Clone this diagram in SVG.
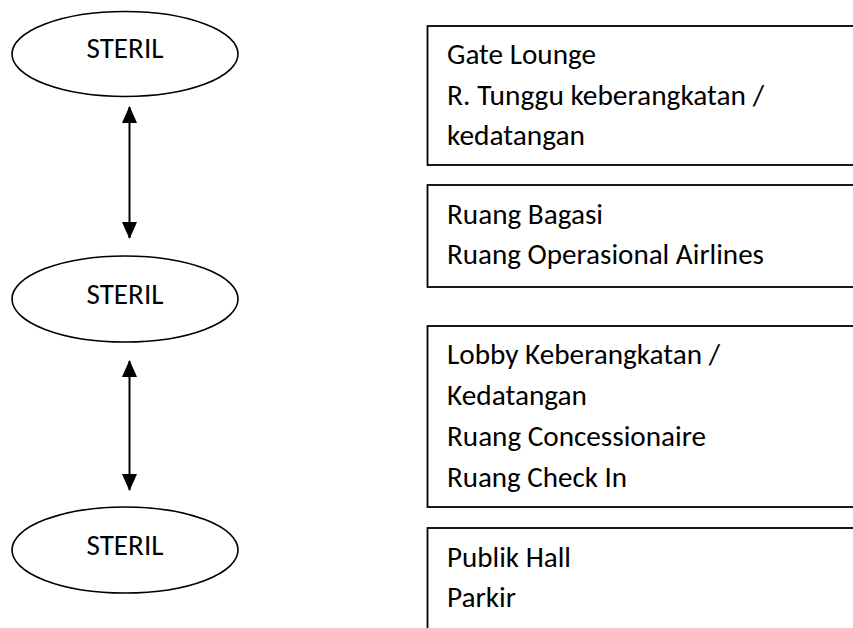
<svg xmlns="http://www.w3.org/2000/svg" width="853" height="628" viewBox="0 0 853 628">
  <style>
    .zone { fill: #ffffff; stroke: #000000; stroke-width: 1.6; }
    .area { fill: #ffffff; stroke: #000000; stroke-width: 1.8; }
    .lbl { font-family: Carlito, Lato, "Liberation Sans", sans-serif; font-size: 29px; fill: #000000; }
    .mid { text-anchor: middle; }
    .link { stroke: #000000; stroke-width: 2; fill: none; }
  </style>
  <defs>
    <marker id="head" viewBox="0 0 17 15" refX="16" refY="7.5" markerWidth="17" markerHeight="15" markerUnits="userSpaceOnUse" orient="auto-start-reverse">
      <path d="M0,0 L17,7.5 L0,15 z" fill="#000000"/>
    </marker>
  </defs>
  <rect width="853" height="628" fill="#ffffff"/>

  <!-- zones (left column) -->
  <g id="zone-top">
    <ellipse class="zone" cx="125" cy="54" rx="113" ry="42.5"/>
    <text class="lbl mid" x="125" y="58" textLength="77" lengthAdjust="spacingAndGlyphs">STERIL</text>
  </g>
  <g id="zone-mid">
    <ellipse class="zone" cx="125" cy="299" rx="113" ry="43"/>
    <text class="lbl mid" x="125" y="304" textLength="77" lengthAdjust="spacingAndGlyphs">STERIL</text>
  </g>
  <g id="zone-bottom">
    <ellipse class="zone" cx="125" cy="550" rx="113" ry="43"/>
    <text class="lbl mid" x="125" y="555" textLength="77" lengthAdjust="spacingAndGlyphs">STERIL</text>
  </g>

  <!-- two-way links between zones -->
  <g id="links">
    <line class="link" x1="129.5" y1="107" x2="129.5" y2="238" marker-start="url(#head)" marker-end="url(#head)"/>
    <line class="link" x1="129.5" y1="361" x2="129.5" y2="490" marker-start="url(#head)" marker-end="url(#head)"/>
  </g>

  <!-- area lists (right column) -->
  <g id="area-gate">
    <rect class="area" x="427.5" y="26" width="440" height="139"/>
    <text class="lbl" x="447" y="64" textLength="149" lengthAdjust="spacingAndGlyphs">Gate Lounge</text>
    <text class="lbl" x="447" y="105" textLength="317" lengthAdjust="spacingAndGlyphs">R. Tunggu keberangkatan /</text>
    <text class="lbl" x="447" y="145" textLength="138" lengthAdjust="spacingAndGlyphs">kedatangan</text>
  </g>
  <g id="area-baggage">
    <rect class="area" x="427.5" y="185" width="440" height="102"/>
    <text class="lbl" x="447" y="224" textLength="156" lengthAdjust="spacingAndGlyphs">Ruang Bagasi</text>
    <text class="lbl" x="447" y="264" textLength="317" lengthAdjust="spacingAndGlyphs">Ruang Operasional Airlines</text>
  </g>
  <g id="area-lobby">
    <rect class="area" x="427.5" y="326" width="440" height="181"/>
    <text class="lbl" x="447" y="364" textLength="273" lengthAdjust="spacingAndGlyphs">Lobby Keberangkatan /</text>
    <text class="lbl" x="447" y="405" textLength="140" lengthAdjust="spacingAndGlyphs">Kedatangan</text>
    <text class="lbl" x="447" y="446" textLength="259" lengthAdjust="spacingAndGlyphs">Ruang Concessionaire</text>
    <text class="lbl" x="447" y="487" textLength="180" lengthAdjust="spacingAndGlyphs">Ruang Check In</text>
  </g>
  <g id="area-public">
    <rect class="area" x="427.5" y="528" width="440" height="120"/>
    <text class="lbl" x="447" y="567" textLength="124" lengthAdjust="spacingAndGlyphs">Publik Hall</text>
    <text class="lbl" x="447" y="607" textLength="69" lengthAdjust="spacingAndGlyphs">Parkir</text>
  </g>
</svg>
